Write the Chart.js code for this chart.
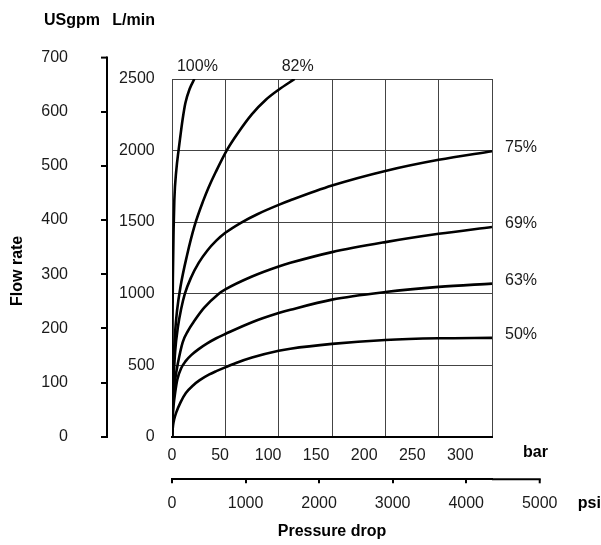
<!DOCTYPE html>
<html>
<head>
<meta charset="utf-8">
<script src="https://cdn.jsdelivr.net/npm/chart.js@4.4.1/dist/chart.umd.min.js"></script>
<style>
  html, body { margin: 0; padding: 0; background: #fff; }
  #wrap { width: 601px; height: 545px; }
</style>
</head>
<body>
<div id="wrap"><canvas id="flowChart" width="601" height="545"></canvas></div>
<script>
// pressure drop (bar) vs flow (L/min), one pair of arrays per opening
const BAR_100 = [0, 0.3, 0.8, 1.5, 2.2, 4, 6.2, 7.8, 10, 12.5, 16.5, 21];
const LPM_100 = [0, 600, 1100, 1450, 1657, 1860, 2005, 2098, 2220, 2331, 2430, 2500];
const BAR_82 = [0, 0.5, 1.5, 3, 4.7, 8, 14, 21.2, 29.6, 34.3, 41, 51.6, 62, 75, 88, 100, 115];
const LPM_82 = [0, 280, 530, 740, 880, 1050, 1265, 1475, 1655, 1742, 1850, 2005, 2125, 2255, 2355, 2425, 2500];
const BAR_75 = [0, 0.5, 1.5, 3, 5.6, 8.5, 12, 18, 25, 33, 41.5, 50, 65, 80, 100, 111, 150, 200, 250, 300];
const LPM_75 = [0, 200, 400, 600, 770, 890, 998, 1115, 1215, 1300, 1370, 1425, 1497, 1555, 1620, 1652, 1755, 1857, 1935, 1995];
const BAR_69 = [0, 0.5, 1.5, 3, 5.6, 10, 15, 21, 30, 43.6, 50, 75, 100, 111, 150, 200, 250, 300];
const LPM_69 = [0, 150, 290, 400, 516, 660, 740, 810, 900, 998, 1030, 1120, 1190, 1215, 1290, 1360, 1418, 1466];
const BAR_63 = [0, 0.5, 1.5, 3, 5, 8.7, 13, 18, 25, 33, 41.5, 50, 75, 100, 111, 150, 200, 250, 300];
const LPM_63 = [0, 110, 220, 310, 400, 480, 530, 570, 612, 652, 688, 718, 800, 864, 887, 958, 1011, 1047, 1070];
const BAR_50 = [0, 1, 2, 4, 8, 13, 20, 26, 35, 41.5, 50, 60, 75, 100, 111, 150, 200, 250, 300];
const LPM_50 = [0, 80, 120, 170, 240, 305, 360, 395, 435, 458, 485, 515, 553, 600, 615, 649, 676, 688, 691];

const CURVE_LABELS = ["100%", "82%", "75%", "69%", "63%", "50%"];
const CURVE_BARS = [BAR_100, BAR_82, BAR_75, BAR_69, BAR_63, BAR_50];
const CURVE_LPMS = [LPM_100, LPM_82, LPM_75, LPM_69, LPM_63, LPM_50];

const BAR_TICKS = [0, 50, 100, 150, 200, 250, 300];
const LPM_TICKS = [0, 500, 1000, 1500, 2000, 2500];
const USGPM_TICKS = [0, 100, 200, 300, 400, 500, 600, 700];
const PSI_TICKS = [0, 1000, 2000, 3000, 4000, 5000];

const BAR_MAX = 300;
const LPM_MAX = 2500;
const LPM_PER_USGPM = 3.785;
const PSI_PER_BAR = 14.5038;
// the printed bar numbers sit on a slightly tighter pitch than the grid
const BAR_LABEL_SPAN = 333;

const FONT = '"Liberation Sans", Arial, sans-serif';
const TICK_FONT = { family: FONT, size: 16 };
const BOLD_FONT = { family: FONT, size: 16, weight: "bold" };
const TEXT = "#1a1a1a";
const GRID = "#444";
const US_TICK_LEN = 6;

Chart.defaults.font.family = FONT;
Chart.defaults.color = TEXT;

function ticksFrom(list) {
  return (scale) => {
    scale.ticks = list.filter((v) => v <= scale.max + 1e-6).map((v) => ({ value: v }));
  };
}

const plainNumber = (v) => String(v);

// bits the axes can't draw: axis stubs past the box, unit names, curve names
const annotatePlugin = {
  id: "annotate",
  afterDraw(chart) {
    const { ctx, chartArea, scales } = chart;
    const { x, y, yUS, xPsi } = scales;
    ctx.save();
    ctx.strokeStyle = "#000";
    ctx.fillStyle = TEXT;
    ctx.lineWidth = 2;

    // USgpm axis runs on above the box
    const usTop = yUS.getPixelForValue(USGPM_TICKS[USGPM_TICKS.length - 1]);
    ctx.beginPath();
    ctx.moveTo(yUS.right, chartArea.top);
    ctx.lineTo(yUS.right, usTop - 1);
    ctx.stroke();
    ctx.font = `${TICK_FONT.size}px ${FONT}`;
    ctx.textAlign = "right";
    ctx.textBaseline = "middle";
    USGPM_TICKS.filter((v) => v > yUS.max).forEach((v) => {
      const py = yUS.getPixelForValue(v);
      ctx.beginPath();
      ctx.moveTo(yUS.right - US_TICK_LEN, py);
      ctx.lineTo(yUS.right, py);
      ctx.stroke();
      ctx.fillText(String(v), yUS.right - US_TICK_LEN - 33, py);
    });

    // psi axis runs on past the box
    const psiEnd = xPsi.getPixelForValue(PSI_TICKS[PSI_TICKS.length - 1]);
    ctx.beginPath();
    ctx.moveTo(chartArea.right, xPsi.top);
    ctx.lineTo(psiEnd + 1, xPsi.top);
    ctx.stroke();
    ctx.textAlign = "center";
    PSI_TICKS.filter((v) => v > xPsi.max).forEach((v) => {
      const px = xPsi.getPixelForValue(v);
      ctx.beginPath();
      ctx.moveTo(px, xPsi.top);
      ctx.lineTo(px, xPsi.top + 4);
      ctx.stroke();
      ctx.fillText(String(v), px, xPsi.top + 24.6);
    });

    // curve names
    chart.data.datasets.forEach((ds, i) => {
      const pts = chart.getDatasetMeta(i).data;
      const last = pts[pts.length - 1];
      const bars = CURVE_BARS[i];
      if (bars[bars.length - 1] >= BAR_MAX) {
        ctx.textAlign = "left";
        ctx.textBaseline = "middle";
        ctx.fillText(ds.label, last.x + 13, last.y - 3.3);
      } else {
        ctx.textAlign = "center";
        ctx.textBaseline = "alphabetic";
        ctx.fillText(ds.label, last.x + 3, chartArea.top - 7.6);
      }
    });

    // unit names and axis names
    ctx.font = `bold ${BOLD_FONT.size}px ${FONT}`;
    ctx.fillStyle = "#000";
    ctx.textAlign = "right";
    ctx.textBaseline = "alphabetic";
    ctx.fillText("USgpm", yUS.right - 7, 24.5);
    ctx.fillText("L/min", y.right - 17, 24.5);
    ctx.textAlign = "left";
    ctx.textBaseline = "middle";
    ctx.fillText("bar", chartArea.right + 31, x.bottom + 16);
    ctx.fillText("psi", psiEnd + 38, xPsi.top + 24.6);

    ctx.translate(yUS.left + 14, (chartArea.top + chartArea.bottom) / 2 + 13);
    ctx.rotate(-Math.PI / 2);
    ctx.textAlign = "center";
    ctx.fillText("Flow rate", 0, 0);
    ctx.restore();
  },
};

new Chart(document.getElementById("flowChart"), {
  type: "line",
  data: {
    datasets: CURVE_LABELS.map((label, i) => ({
      label,
      data: CURVE_BARS[i].map((b, j) => ({ x: b, y: CURVE_LPMS[i][j] })),
      borderColor: "#000",
      borderWidth: 2.6,
      pointRadius: 0,
      fill: false,
      cubicInterpolationMode: "monotone",
    })),
  },
  options: {
    responsive: false,
    animation: false,
    layout: { padding: { left: 4, right: 109, top: 79, bottom: 0 } },
    plugins: { legend: { display: false }, tooltip: { enabled: false } },
    scales: {
      x: {
        type: "linear",
        position: "bottom",
        weight: 0,
        min: 0,
        max: BAR_MAX,
        afterBuildTicks: ticksFrom(BAR_TICKS),
        afterFit: (s) => { s.height = 0; },
        grid: { color: GRID, lineWidth: 1, drawTicks: false },
        border: { color: "#000", width: 2 },
        ticks: { display: false },
      },
      xBarLabels: {
        type: "linear",
        position: "bottom",
        weight: 0.5,
        min: 0,
        max: BAR_LABEL_SPAN,
        afterBuildTicks: ticksFrom(BAR_TICKS),
        afterFit: (s) => { s.height = 42.6; },
        grid: { display: false, drawTicks: false },
        border: { display: false },
        ticks: { font: TICK_FONT, color: TEXT, padding: 9.7, maxRotation: 0, callback: plainNumber },
      },
      xPsi: {
        type: "linear",
        position: "bottom",
        weight: 1,
        min: 0,
        max: BAR_MAX * PSI_PER_BAR,
        afterBuildTicks: ticksFrom(PSI_TICKS),
        afterFit: (s) => { s.height = 65.7; },
        grid: { drawOnChartArea: false, color: "#000", lineWidth: 2, tickLength: 4 },
        border: { color: "#000", width: 2 },
        ticks: { font: TICK_FONT, color: TEXT, padding: 11, maxRotation: 0, callback: plainNumber },
        title: { display: true, text: "Pressure drop", font: BOLD_FONT, color: "#000", padding: { top: 0, bottom: 3.4 } },
      },
      y: {
        type: "linear",
        position: "left",
        weight: 0,
        min: 0,
        max: LPM_MAX,
        afterBuildTicks: ticksFrom(LPM_TICKS),
        afterFit: (s) => { s.width = 65; },
        grid: { color: GRID, lineWidth: 1, drawTicks: false },
        border: { display: false },
        ticks: { font: TICK_FONT, color: TEXT, padding: 17.3, callback: plainNumber },
      },
      yUS: {
        type: "linear",
        position: "left",
        weight: 1,
        min: 0,
        max: LPM_MAX / LPM_PER_USGPM,
        afterBuildTicks: ticksFrom(USGPM_TICKS),
        afterFit: (s) => { s.width = 103; },
        grid: { drawOnChartArea: false, color: "#000", lineWidth: 2, tickLength: US_TICK_LEN },
        border: { color: "#000", width: 2 },
        ticks: { font: TICK_FONT, color: TEXT, padding: 33, callback: plainNumber },
      },
    },
  },
  plugins: [annotatePlugin],
});
</script>
</body>
</html>
